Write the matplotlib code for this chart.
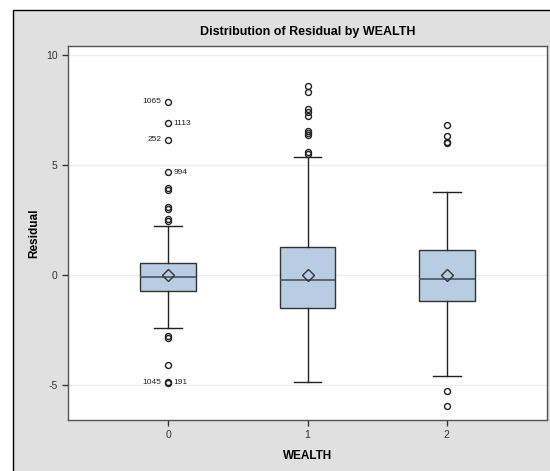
import matplotlib.pyplot as plt
from matplotlib.patches import Rectangle

plt.rcParams['font.family'] = ['Liberation Sans Narrow', 'Liberation Sans', 'DejaVu Sans']
plt.rcParams['axes.unicode_minus'] = False

groups = ['0', '1', '2']
q1 = [-0.71, -1.51, -1.20]
med = [-0.08, -0.23, -0.17]
q3 = [0.53, 1.29, 1.12]
means = [0.02, 0.01, 0.0]
whislo = [-2.42, -4.86, -4.59]
whishi = [2.24, 5.38, 3.76]
fliers = [
    [7.88, 6.90, 6.14, 4.67, 3.95, 3.85, 3.10, 3.00, 2.53, 2.47,
     -2.77, -2.86, -4.08, -4.86, -4.90],
    [8.59, 8.33, 7.53, 7.39, 7.24, 6.55, 6.45, 6.36, 5.58, 5.50],
    [6.82, 6.30, 6.06, 5.98, -5.26, -5.95],
]
# labelled outliers: group index, value, id, side
lab_grp = [0, 0, 0, 0, 0, 0]
lab_val = [7.88, 6.90, 6.14, 4.67, -4.88, -4.88]
lab_txt = ['1065', '1113', '252', '994', '1045', '191']
lab_side = ['left', 'right', 'left', 'right', 'left', 'right']

stats = []
for i in range(len(groups)):
    stats.append(dict(q1=q1[i], med=med[i], q3=q3[i], mean=means[i],
                      whislo=whislo[i], whishi=whishi[i], fliers=fliers[i], label=groups[i]))

fig = plt.figure(figsize=(5.5, 4.71), dpi=100)
fig.patch.set_facecolor('white')
fig.patches.append(Rectangle((13 / 550, -0.01), 1.0, 1 - 10 / 471 + 0.01, transform=fig.transFigure,
                             facecolor='#e0e0e0', edgecolor='black', linewidth=1, zorder=-10))

ax = fig.add_axes([68 / 550, 1 - 420 / 471, (547 - 68) / 550, (420 - 46) / 471])
ax.set_facecolor('white')
ax.set_zorder(5)

ax.bxp(stats, positions=range(len(groups)), widths=0.4, patch_artist=True, showmeans=True,
       boxprops=dict(facecolor='#b8cce4', edgecolor='#333333', linewidth=1),
       medianprops=dict(color='#4a5563', linewidth=1.2),
       whiskerprops=dict(color='#222222', linewidth=1),
       capprops=dict(color='#222222', linewidth=1),
       capwidths=0.2,
       meanprops=dict(marker='D', markerfacecolor='none', markeredgecolor='#333333',
                      markersize=6, markeredgewidth=1),
       flierprops=dict(marker='o', markerfacecolor='none', markeredgecolor='#222222',
                       markersize=4.3, markeredgewidth=1))

for g, v, t, s in zip(lab_grp, lab_val, lab_txt, lab_side):
    dx = -5 if s == 'left' else 4
    ha = 'right' if s == 'left' else 'left'
    ax.annotate(t, (g, v), xytext=(dx, 0), textcoords='offset points',
                ha=ha, va='center', fontsize=6, color='#222222')

ax.set_xlim(-0.72, 2.72)
ax.set_ylim(-6.59, 10.41)
ax.set_yticks([-5, 0, 5, 10])
ax.set_xticks(range(len(groups)))
ax.set_xticklabels(groups)
ax.yaxis.grid(True, color='#ececec', linewidth=1)
ax.set_axisbelow(True)
ax.tick_params(axis='both', labelsize=7.5, colors='#333333', length=4, width=1, direction='out')
for sp in ax.spines.values():
    sp.set_color('#555555')
    sp.set_linewidth(1)

ax.set_title('Distribution of Residual by WEALTH', fontsize=9, fontweight='bold', pad=8)
ax.set_xlabel('WEALTH', fontsize=8.5, fontweight='bold', labelpad=7)
ax.set_ylabel('Residual', fontsize=8.5, fontweight='bold', labelpad=4)

fig.savefig('out.png', dpi=100)
